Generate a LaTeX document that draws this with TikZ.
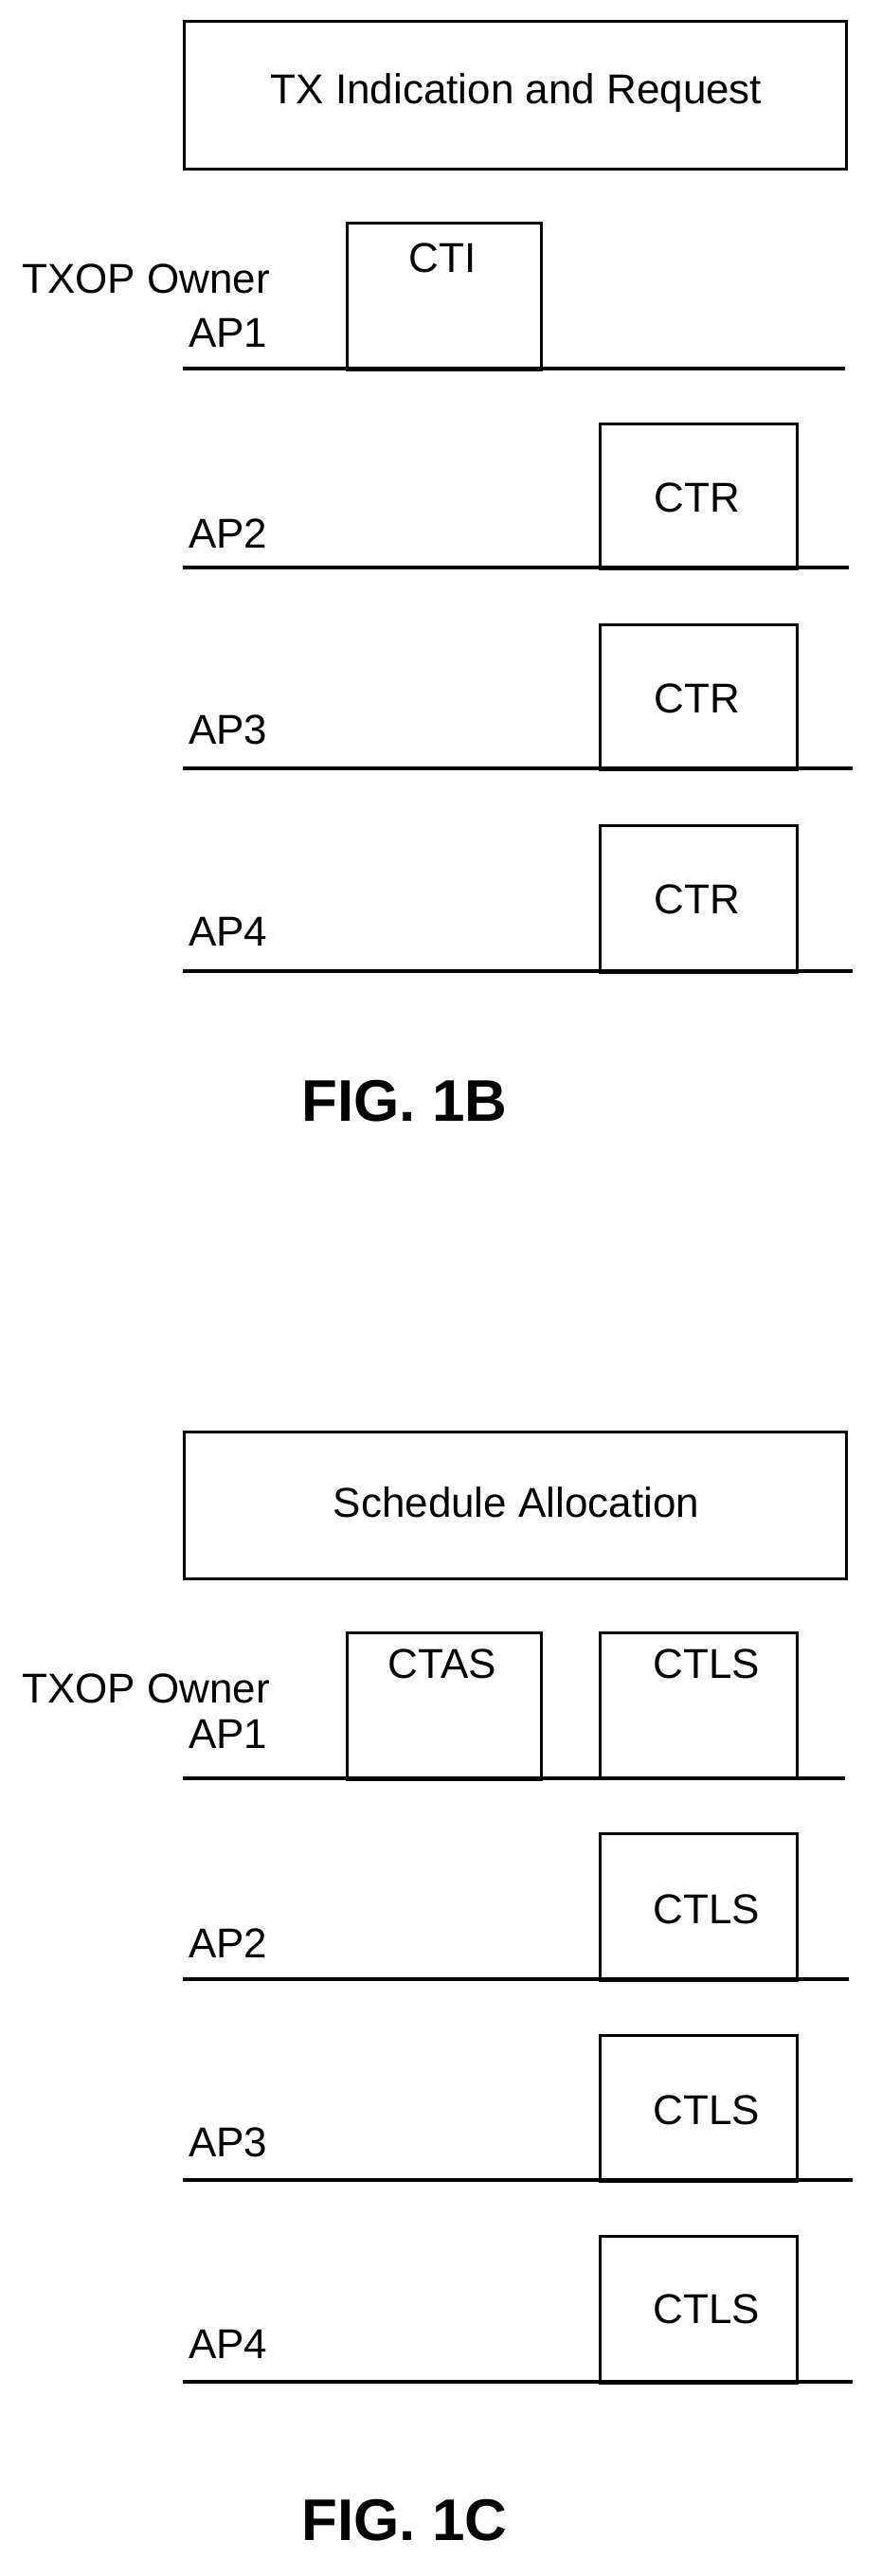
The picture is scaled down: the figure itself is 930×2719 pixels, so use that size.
\documentclass[tikz,border=0pt]{standalone}
\usepackage{fontspec}
\setmainfont{Liberation Sans}
\begin{document}
\begin{tikzpicture}[x=1pt,y=-1pt,
  frame/.style={draw,line width=3.4pt,inner sep=0pt,anchor=north west},
  lbl/.style={font=\fontsize{44}{48}\selectfont,inner sep=0pt},
  ap/.style={lbl,anchor=west},
  axis/.style={line width=3.4pt},
  fig/.style={font=\bfseries\fontsize{62}{66}\selectfont,inner sep=0pt}]
\useasboundingbox (0,0) rectangle (930,2719);
% ---------- FIG 1B ----------
\node[frame,minimum width=699pt,minimum height=156pt] (hb) at (193,21) {};
\node[lbl] (hbt) at (545,98) {TX Indication and Request};
\node[frame,minimum width=205pt,minimum height=155pt] (cti) at (365,234) {};
\node[lbl] at (467,272) {CTI};
\node[frame,minimum width=208pt,minimum height=153pt] (r2) at (632,446) {};
\node[lbl] at (736,525) {CTR};
\node[frame,minimum width=208pt,minimum height=153pt] (r3) at (632,658) {};
\node[lbl] at (736,737) {CTR};
\node[frame,minimum width=208pt,minimum height=155pt] (r4) at (632,870) {};
\node[lbl] at (736,949) {CTR};
\coordinate (b1a) at (193,389); \coordinate (b1b) at (892,389);
\coordinate (b2a) at (193,599); \coordinate (b2b) at (896,599);
\coordinate (b3a) at (193,811); \coordinate (b3b) at (900,811);
\coordinate (b4a) at (193,1025); \coordinate (b4b) at (900,1025);
\draw[axis] (b1a) -- (b1b);
\draw[axis] (b2a) -- (b2b);
\draw[axis] (b3a) -- (b3b);
\draw[axis] (b4a) -- (b4b);
\node[lbl,anchor=east] (own1) at (285,294) {TXOP Owner};
\node[ap] (a1) at (199,351) {AP1};
\node[ap] (a2) at (199,563) {AP2};
\node[ap] (a3) at (199,770) {AP3};
\node[ap] (a4) at (199,983) {AP4};
\node[fig] (f1b) at (427,1162) {FIG. 1B};
% ---------- FIG 1C ----------
\node[frame,minimum width=699pt,minimum height=155pt] (hc) at (193,1510) {};
\node[lbl] (hct) at (545,1586) {Schedule Allocation};
\node[frame,minimum width=205pt,minimum height=155pt] (ctas) at (365,1722) {};
\node[lbl] at (467,1756) {CTAS};
\node[frame,minimum width=208pt,minimum height=153pt] (l1) at (632,1722) {};
\node[lbl] at (746,1756) {CTLS};
\node[frame,minimum width=208pt,minimum height=155pt] (l2) at (632,1934) {};
\node[lbl] at (746,2015) {CTLS};
\node[frame,minimum width=208pt,minimum height=154pt] (l3) at (632,2147) {};
\node[lbl] at (746,2227) {CTLS};
\node[frame,minimum width=208pt,minimum height=155pt] (l4) at (632,2359) {};
\node[lbl] at (746,2437) {CTLS};
\coordinate (c1a) at (193,1877); \coordinate (c1b) at (892,1877);
\coordinate (c2a) at (193,2089); \coordinate (c2b) at (896,2089);
\coordinate (c3a) at (193,2301); \coordinate (c3b) at (900,2301);
\coordinate (c4a) at (193,2514); \coordinate (c4b) at (900,2514);
\draw[axis] (c1a) -- (c1b);
\draw[axis] (c2a) -- (c2b);
\draw[axis] (c3a) -- (c3b);
\draw[axis] (c4a) -- (c4b);
\node[lbl,anchor=east] (own2) at (285,1782) {TXOP Owner};
\node[ap] (c1) at (199,1830) {AP1};
\node[ap] (c2) at (199,2051) {AP2};
\node[ap] (c3) at (199,2261) {AP3};
\node[ap] (c4) at (199,2474) {AP4};
\node[fig] (f1c) at (427,2660) {FIG. 1C};
\end{tikzpicture}
\end{document}
